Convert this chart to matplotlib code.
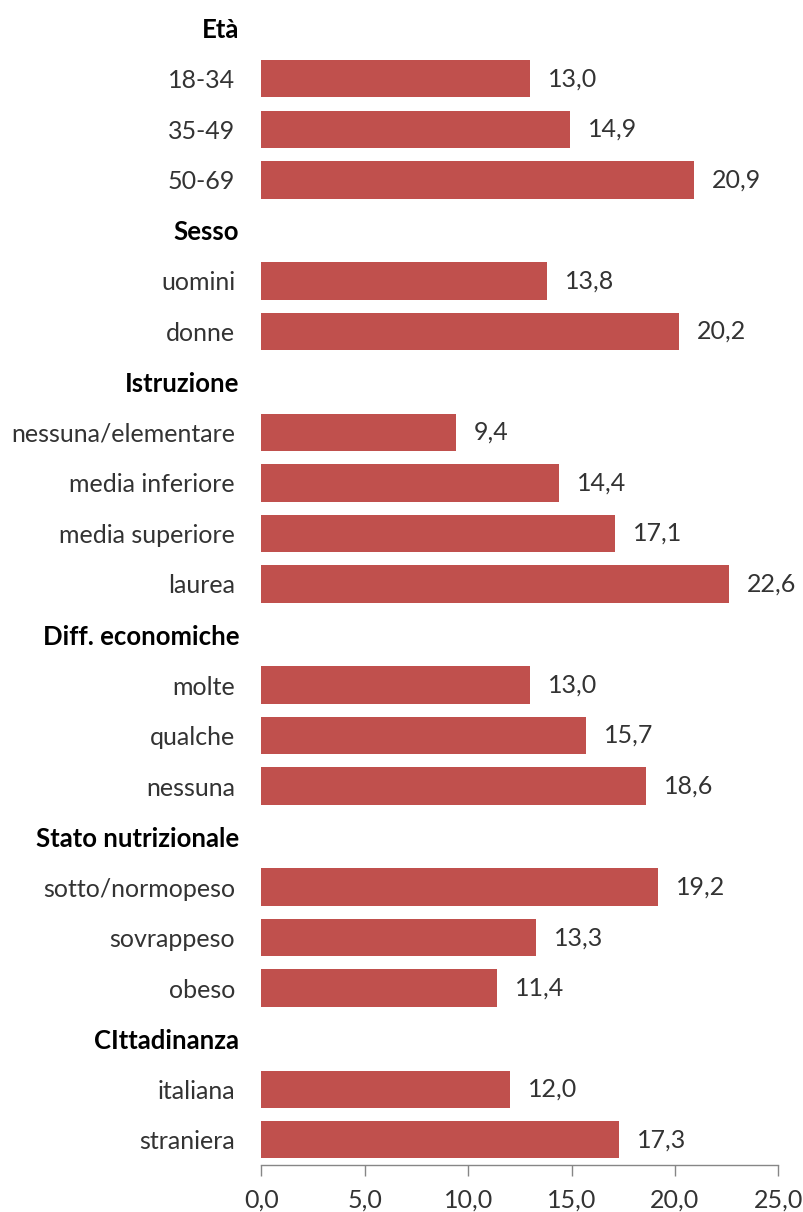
import matplotlib
matplotlib.use("Agg")
import matplotlib.pyplot as plt
import matplotlib.transforms as mtransforms
from matplotlib.ticker import FuncFormatter

plt.rcParams["font.family"] = ["Lato", "DejaVu Sans"]

# Group headers and the categories/values under each
groups = ["Età", "Sesso", "Istruzione", "Diff. economiche",
          "Stato nutrizionale", "CIttadinanza"]

cat_eta = ["18-34", "35-49", "50-69"]
val_eta = [13.0, 14.9, 20.9]

cat_sesso = ["uomini", "donne"]
val_sesso = [13.8, 20.2]

cat_istruzione = ["nessuna/elementare", "media inferiore",
                  "media superiore", "laurea"]
val_istruzione = [9.4, 14.4, 17.1, 22.6]

cat_economiche = ["molte", "qualche", "nessuna"]
val_economiche = [13.0, 15.7, 18.6]

cat_nutrizionale = ["sotto/normopeso", "sovrappeso", "obeso"]
val_nutrizionale = [19.2, 13.3, 11.4]

cat_cittadinanza = ["italiana", "straniera"]
val_cittadinanza = [12.0, 17.3]

x_ticks = [0, 5, 10, 15, 20, 25]

sections = list(zip(
    groups,
    [cat_eta, cat_sesso, cat_istruzione, cat_economiche,
     cat_nutrizionale, cat_cittadinanza],
    [val_eta, val_sesso, val_istruzione, val_economiche,
     val_nutrizionale, val_cittadinanza],
))

# Flatten into rows: a header row (no bar) followed by its categories
labels, values, is_header = [], [], []
for g, cats, vals in sections:
    labels.append(g)
    values.append(None)
    is_header.append(True)
    for c, v in zip(cats, vals):
        labels.append(c)
        values.append(v)
        is_header.append(False)

n = len(labels)
W, H = 804, 1212
fig = plt.figure(figsize=(W / 100, H / 100), dpi=100)
left, right = 261.5 / W, 778.3 / W
top, bottom = 1 - 3 / H, 1 - 1165 / H
ax = fig.add_axes([left, bottom, right - left, top - bottom])

bar_color = "#C0504D"
text_color = "#333333"
fs = 18
fs_header = 18.5

ys = [i for i in range(n) if not is_header[i]]
vs = [values[i] for i in ys]
ax.barh(ys, vs, height=0.74, color=bar_color, zorder=2)

for y, v in zip(ys, vs):
    ax.annotate(f"{v:.1f}".replace(".", ","), xy=(v, y),
                xytext=(18, 0), textcoords="offset pixels",
                va="center", ha="left", fontsize=fs, color=text_color)

ax.set_ylim(n - 0.5, -0.5)
ax.set_xlim(x_ticks[0], x_ticks[-1])
ax.set_yticks(range(n))
ax.set_yticklabels(labels)
ax.tick_params(axis="y", length=0, pad=19)

# Bold group headers sit a little further right than the category labels
header_shift = mtransforms.ScaledTranslation(4 / 100, 0, fig.dpi_scale_trans)
for lbl, hdr in zip(ax.get_yticklabels(), is_header):
    if hdr:
        lbl.set_fontsize(fs_header)
        lbl.set_fontweight("bold")
        lbl.set_color("black")
        lbl.set_transform(lbl.get_transform() + header_shift)
    else:
        lbl.set_fontsize(fs)
        lbl.set_color(text_color)

ax.set_xticks(x_ticks)
ax.xaxis.set_major_formatter(FuncFormatter(lambda x, p: f"{x:.1f}".replace(".", ",")))
ax.tick_params(axis="x", direction="out", length=8, width=1, color="#868686",
               labelsize=fs, labelcolor=text_color, pad=9)

for s in ["top", "right", "left"]:
    ax.spines[s].set_visible(False)
ax.spines["bottom"].set_color("#868686")
ax.spines["bottom"].set_linewidth(1)

fig.savefig("out.png", dpi=100, facecolor="white")
